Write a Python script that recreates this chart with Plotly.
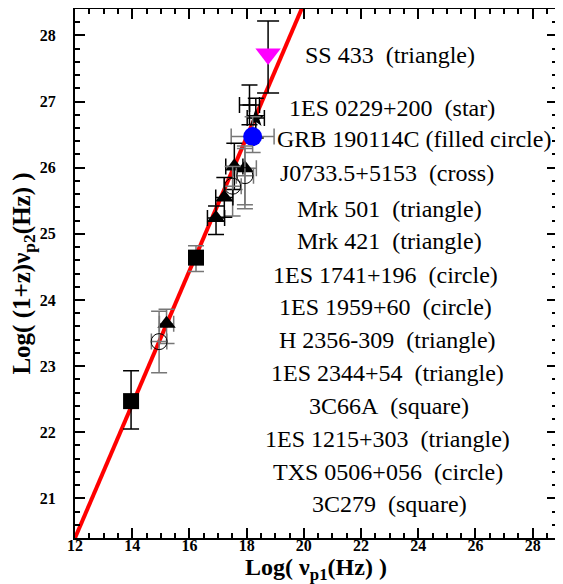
import plotly.graph_objects as go
import numpy as np

# ---- data ----
names = ["SS 433", "1ES 0229+200", "GRB 190114C", "J0733.5+5153", "Mrk 501", "Mrk 421",
         "1ES 1741+196", "1ES 1959+60", "H 2356-309", "1ES 2344+54", "3C66A",
         "1ES 1215+303", "TXS 0506+056", "3C279"]
shapes = ["triangle", "star", "filled circle", "cross", "triangle", "triangle",
          "circle", "circle", "triangle", "triangle", "square", "triangle", "circle", "square"]
log_nu_p1 = [18.75, 18.32, 18.21, 18.10, 17.94, 17.57, 17.94, 17.51, 17.22, 16.93, 16.23, 15.20, 14.94, 13.96]
log_nu_p2 = [27.72, 26.75, 26.47, 26.95, 25.99, 26.02, 25.88, 25.72, 25.55, 25.24, 24.64, 23.64, 23.37, 22.47]
x_err = [0.0, 0.30, 0.75, 0.35, 0.40, 0.30, 0.30, 0.30, 0.30, 0.30, 0.0, 0.25, 0.27, 0.0]
y_err_plus = [0.50, 0.30, 0.30, 0.30, 0.30, 0.35, 0.45, 0.30, 0.30, 0.18, 0.18, 0.22, 0.46, 0.46]
y_err_minus = [0.59, 0.30, 0.24, 0.30, 0.55, 0.35, 0.50, 0.45, 0.30, 0.25, 0.21, 0.30, 0.47, 0.42]
err_colors = ["black", "black", "#777777", "black", "#777777", "black", "#777777", "#777777",
              "black", "black", "#777777", "#777777", "#777777", "black"]
label_texts = ["SS 433  (triangle)", "1ES 0229+200  (star)", "GRB 190114C (filled circle)",
               "J0733.5+5153  (cross)", "Mrk 501  (triangle)", "Mrk 421  (triangle)",
               "1ES 1741+196  (circle)", "1ES 1959+60  (circle)", "H 2356-309  (triangle)",
               "1ES 2344+54  (triangle)", "3C66A  (square)", "1ES 1215+303  (triangle)",
               "TXS 0506+056  (circle)", "3C279  (square)"]
label_y = [27.70, 26.91, 26.44, 25.92, 25.38, 24.89, 24.38, 23.90, 23.40, 22.89, 22.40, 21.89, 21.40, 20.92]
label_x = [23.01, 23.08, 23.85, 22.91, 23.01, 23.01, 22.84, 22.84, 22.91, 22.94, 22.98, 22.94, 22.94, 23.01]
fit_slope = 1.01
fit_intercept = 8.28
x_range = [12, 28.85]
y_range = [20.4, 28.4]
x_ticks = [12, 14, 16, 18, 20, 22, 24, 26, 28]
y_ticks = [21, 22, 23, 24, 25, 26, 27, 28]

marker_style = {
    "triangle": dict(symbol="triangle-up", size=16, color="black"),
    "star": dict(symbol="star", size=14, color="black"),
    "filled circle": dict(symbol="circle", size=19, color="blue"),
    "cross": dict(symbol="cross-thin", size=10, color="black", line=dict(width=1.5, color="black")),
    "circle": dict(symbol="circle-open", size=16, color="black", line=dict(width=1)),
    "square": dict(symbol="square", size=16, color="black"),
}

fig = go.Figure()

# fit line
fx = np.array(x_range)
fig.add_trace(go.Scatter(x=fx, y=fit_slope * fx + fit_intercept, mode="lines",
                         line=dict(color="red", width=4), showlegend=False, hoverinfo="skip"))

for i in range(len(names)):
    ms = dict(marker_style[shapes[i]])
    if names[i] == "SS 433":
        ms = dict(symbol="triangle-down", size=22, color="magenta")
    cap = 11 if names[i] == "SS 433" else 8
    fig.add_trace(go.Scatter(
        x=[log_nu_p1[i]], y=[log_nu_p2[i]], mode="markers", marker=ms, name=names[i],
        showlegend=False,
        error_x=dict(type="data", array=[x_err[i]], visible=x_err[i] > 0,
                     color=err_colors[i], thickness=1.5, width=cap),
        error_y=dict(type="data", symmetric=False, array=[y_err_plus[i]], arrayminus=[y_err_minus[i]],
                     color=err_colors[i], thickness=1.5, width=cap),
    ))

for i in range(len(names)):
    fig.add_annotation(x=label_x[i], y=label_y[i], xref="x", yref="y",
                       text=label_texts[i].replace("  ", "&nbsp; "), showarrow=False,
                       xanchor="center", yanchor="middle",
                       font=dict(family="Liberation Serif", size=24, color="black"))

axis_common = dict(showline=True, linecolor="black", linewidth=2, mirror="ticks",
                   ticks="inside", ticklen=10, tickwidth=1.5, tickcolor="black",
                   showgrid=False, zeroline=False, automargin=False,
                   tickfont=dict(family="Liberation Serif", size=16, color="black", weight="bold"))

fig.update_xaxes(range=x_range, tickvals=x_ticks, **axis_common,
                 minor=dict(dtick=0.5, ticks="inside", ticklen=5, tickcolor="black", tickwidth=1.5),
                 ticklabelstandoff=-8,
                 title=dict(text="<b>Log( ν<sub>p1</sub>(Hz) )</b>", standoff=10,
                            font=dict(family="Liberation Serif", size=24, color="black")))
fig.update_yaxes(range=y_range, tickvals=y_ticks, **axis_common,
                 minor=dict(dtick=0.2, ticks="inside", ticklen=5, tickcolor="black", tickwidth=1.5),
                 ticklabelstandoff=14,
                 title=dict(text="<b>Log( (1+z)ν<sub>p2</sub>(Hz) )</b>", standoff=4,
                            font=dict(family="Liberation Serif", size=25, color="black")))

# page body has an 8px default margin; size the figure to fit the 563x584 window
fig.update_layout(width=555, height=576, margin=dict(l=67, r=6, t=1, b=46),
                  plot_bgcolor="white", paper_bgcolor="white", showlegend=False)

fig.write_html("out.html")
